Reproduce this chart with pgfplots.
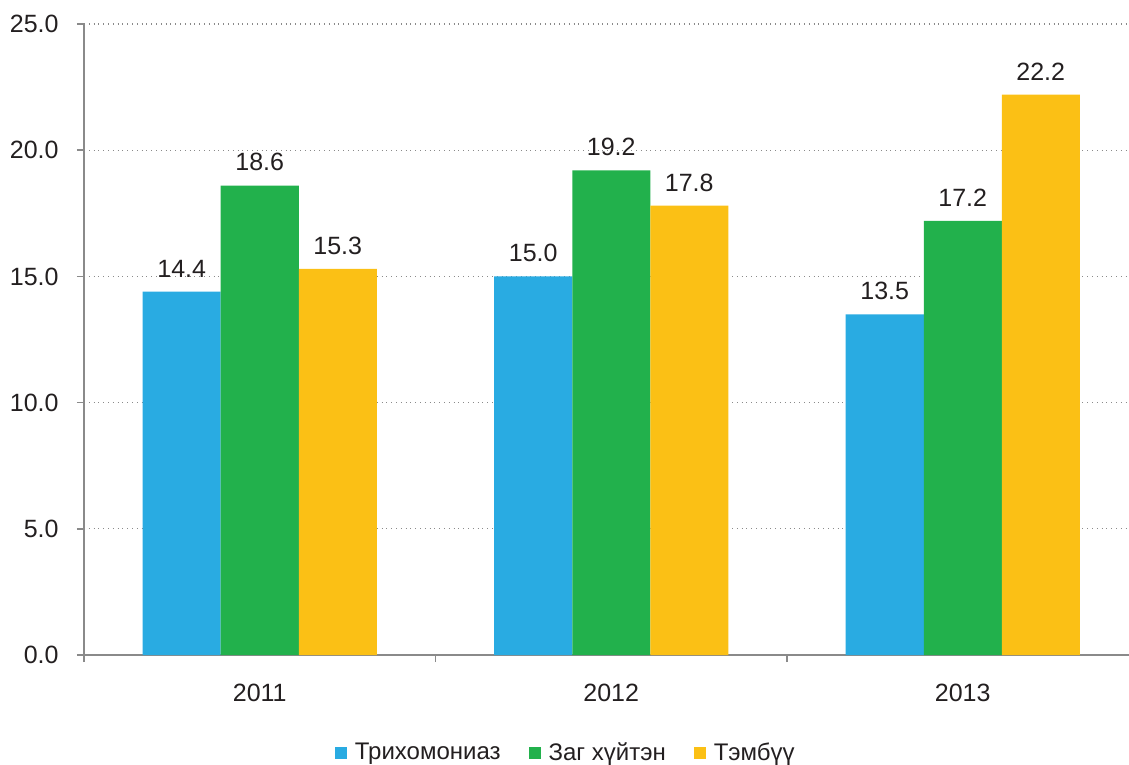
\documentclass[border=0pt]{standalone}
\usepackage{fontspec}
\setmainfont{Liberation Sans}
\usepackage{pgfplots}
\pgfplotsset{compat=1.18}
\definecolor{cblue}{HTML}{29ABE2}
\definecolor{cgreen}{HTML}{22B14C}
\definecolor{cyellow}{HTML}{FBC015}
\definecolor{axgray}{HTML}{8A8A8A}
\definecolor{txt}{HTML}{231F20}
\begin{document}
\begin{tikzpicture}
\begin{axis}[
  scale only axis,
  width=522.5pt, height=315.5pt,
  xmin=-0.5, xmax=2.473,
  ymin=0, ymax=25,
  ybar=0pt, bar width=39pt,
  axis x line*=bottom, axis y line*=left,
  axis line style={axgray, line width=0.8pt, -},
  xtick={0,1,2},
  xticklabels={2011,2012,2013},
  minor xtick={-0.5,0.5,1.5},
  ytick={0,5,10,15,20,25},
  tick align=outside,
  major tick length=3.5pt,
  minor tick length=3.5pt,
  x tick style={draw=none},
  minor x tick style={draw=axgray, line width=0.8pt},
  y tick style={draw=axgray, line width=0.8pt},
  ymajorgrids,
  grid style={axgray, dotted, line width=0.6pt},
  font=\fontsize{12.5pt}{15pt}\selectfont,
  tick label style={text=txt, font=\fontsize{12.5pt}{15pt}\selectfont},
  /pgf/number format/assume math mode=true,
  yticklabel style={/pgf/number format/fixed, /pgf/number format/fixed zerofill, /pgf/number format/precision=1, inner sep=0pt, xshift=-9pt},
  xticklabel style={inner sep=0pt, yshift=-11pt},
  nodes near coords,
  nodes near coords style={/pgf/number format/fixed, /pgf/number format/fixed zerofill, /pgf/number format/precision=1, /pgf/number format/assume math mode=true, text=txt, inner sep=0pt, yshift=7pt,
     font=\fontsize{12.5pt}{15pt}\selectfont},
  legend style={draw=none, at={(0.462,-0.155)}, anchor=center,
     legend columns=3, font=\fontsize{12pt}{14pt}\selectfont, text=txt,
     /tikz/every even column/.append style={column sep=12pt}},
  legend image code/.code={\fill[#1] (0pt,-3pt) rectangle (6pt,3pt); \path (8pt,0pt);},
  clip=false,
]
\addplot[fill=cblue, draw=none, bar shift=-39pt] coordinates {(0,14.4) (1,15.0) (2,13.5)};
\addplot[fill=cgreen, draw=none, bar shift=0pt] coordinates {(0,18.6) (1,19.2) (2,17.2)};
\addplot[fill=cyellow, draw=none, bar shift=39pt] coordinates {(0,15.3) (1,17.8) (2,22.2)};
\legend{Трихомониаз, Заг хүйтэн, Тэмбүү}
\end{axis}
\pgfresetboundingbox
\path[use as bounding box] ([shift={(-42pt,-55pt)}]current axis.south west) rectangle ([shift={(0pt,12pt)}]current axis.north east);
\end{tikzpicture}
\end{document}
